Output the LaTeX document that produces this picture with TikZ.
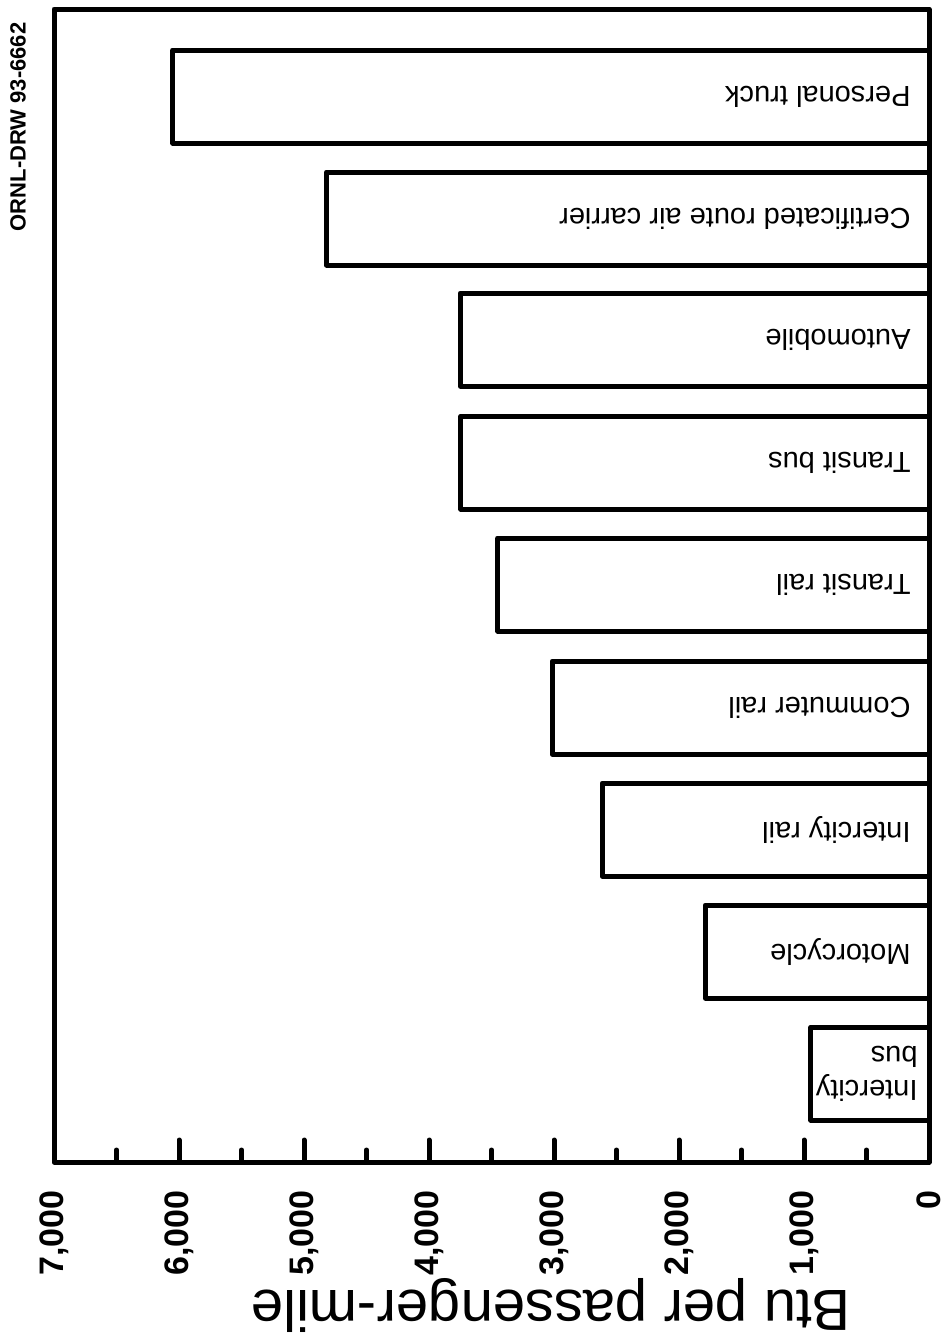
\documentclass[tikz,border=0pt]{standalone}
\usepackage{fontspec}
\setmainfont{Liberation Sans}
\usetikzlibrary{calc}

\begin{document}
\begin{tikzpicture}[x=0.5pt,y=-0.5pt,line width=2.5pt,line join=round,
  barlabel/.style={rotate=180,anchor=west,inner sep=0pt,font=\fontsize{14.5}{17}\selectfont},
  ticklabel/.style={rotate=90,anchor=east,inner sep=0pt,font=\bfseries\fontsize{17}{20}\selectfont}]
\useasboundingbox (0,0) rectangle (950,1334);
% Set axis frame
\pgfmathsetmacro{\axL}{54}
\pgfmathsetmacro{\axR}{929}
\pgfmathsetmacro{\axT}{9}
\pgfmathsetmacro{\axB}{1162}
\pgfmathsetmacro{\unit}{(\axR-\axL)/7000}
\pgfmathsetmacro{\labX}{\axR-16}
\draw (\axL,\axT) rectangle (\axR,\axB);

% Draw bars (value in Btu per passenger-mile)
\draw ({\axR-6050*\unit},50) rectangle (\axR,143);
\node[barlabel] (truck) at (\labX,96.5) {Personal truck};
\draw ({\axR-4820*\unit},172) rectangle (\axR,265);
\node[barlabel] (air) at (\labX,218.5) {Certificated route air carrier};
\draw ({\axR-3750*\unit},293) rectangle (\axR,386);
\node[barlabel] (auto) at (\labX,339.5) {Automobile};
\draw ({\axR-3745*\unit},416) rectangle (\axR,509);
\node[barlabel] (tbus) at (\labX,462.5) {Transit bus};
\draw ({\axR-3450*\unit},538) rectangle (\axR,631);
\node[barlabel] (trail) at (\labX,584.5) {Transit rail};
\draw ({\axR-3015*\unit},661) rectangle (\axR,754);
\node[barlabel] (crail) at (\labX,707.5) {Commuter rail};
\draw ({\axR-2615*\unit},783) rectangle (\axR,876);
\node[barlabel] (irail) at (\labX,829.5) {Intercity rail};
\draw ({\axR-1790*\unit},905) rectangle (\axR,998);
\node[barlabel] (moto) at (\labX,951.5) {Motorcycle};
\draw ({\axR-945*\unit},1027) rectangle (\axR,1120);
\node[barlabel,align=left] (ibus) at (\axR-9,1073.5) {Intercity\\bus};

% Draw ticks
\foreach \v in {500,1500,...,6500}
  \draw[line cap=round] ({\axR-\v*\unit},\axB) -- ++(0,-12);
\foreach \v in {1000,2000,...,6000}
  \draw[line cap=round] ({\axR-\v*\unit},\axB) -- ++(0,-22);
\foreach \v/\t in {0/0,1000/{1,000},2000/{2,000},3000/{3,000},4000/{4,000},5000/{5,000},6000/{6,000},7000/{7,000}}
  \node[ticklabel] (tick\v) at ({\axR-\v*\unit},1188) {\t};

% Axis title and drawing number
\node[rotate=180,font=\fontsize{29}{34}\selectfont] (title) at (551,1305) {Btu per passenger-mile};
\node[rotate=90,anchor=east,inner sep=0pt,font=\bfseries\fontsize{11}{13}\selectfont] (drw) at (18,20) {ORNL-DRW 93-6662};
\end{tikzpicture}
\end{document}
